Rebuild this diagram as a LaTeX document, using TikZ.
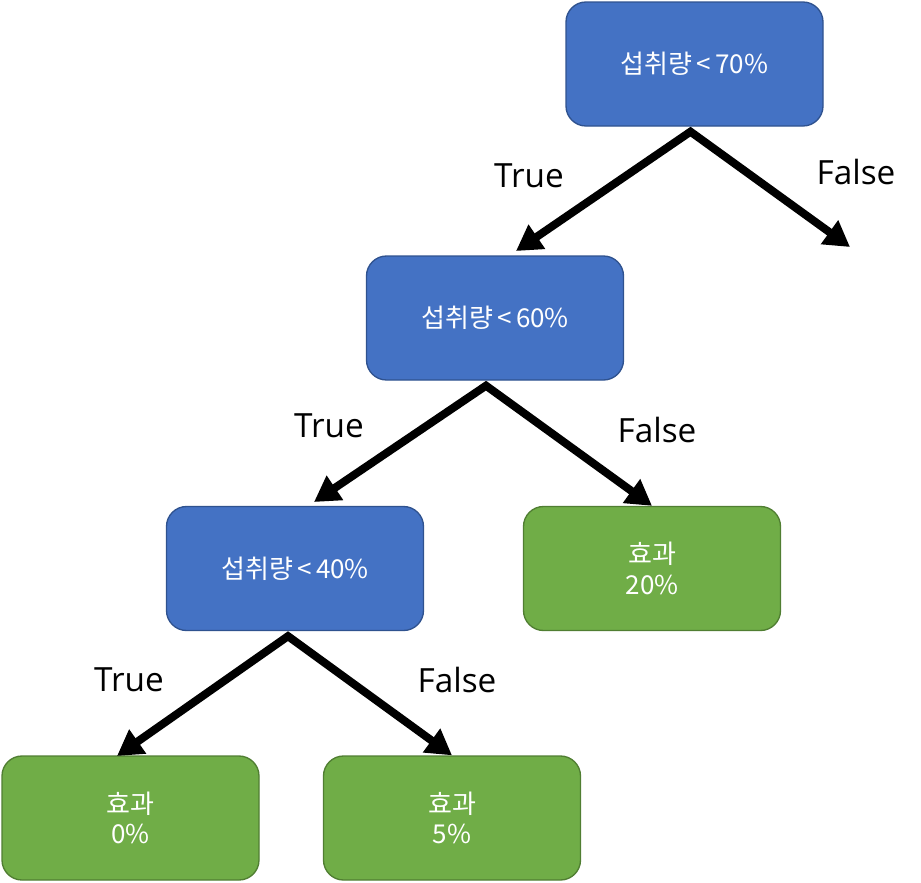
\documentclass[tikz,border=0pt]{standalone}
\usepackage{fontspec}
\setmainfont{Open Sans}
\newfontfamily\kor{Noto Sans CJK KR}
\usetikzlibrary{arrows.meta,calc}
\definecolor{bluefill}{HTML}{4472C4}
\definecolor{blueline}{HTML}{2F528F}
\definecolor{greenfill}{HTML}{70AD47}
\definecolor{greenline}{HTML}{507E32}
\tikzset{
  box/.style={rounded corners=15pt, minimum width=192.75pt, minimum height=93pt,
    line width=1pt, text=white, align=center, font=\kor\fontsize{19.5}{23}\selectfont, inner sep=0pt},
  bluebox/.style={box, fill=bluefill, draw=blueline},
  greenbox/.style={box, fill=greenfill, draw=greenline},
  branch/.style={line width=6pt, line join=miter, {Triangle[length=19pt,width=21pt]}-{Triangle[length=19pt,width=21pt]}},
  lbl/.style={font=\fontsize{25}{30}\selectfont, text=black, inner sep=0pt}
}
\begin{document}
\begin{tikzpicture}[x=0.75pt,y=-0.75pt]
\useasboundingbox (0,0) rectangle (921,882);
\node[bluebox] (n70) at (694.5,64) {섭취량\,<\,70\%};
\node[bluebox] (n60) at (495,318) {섭취량\,<\,60\%};
\node[bluebox] (n40) at (295,568.5) {섭취량\,<\,40\%};
\node[greenbox] (g20) at (652,568.5) {효과\\20\%};
\node[greenbox] (g0) at (130.5,818) {효과\\0\%};
\node[greenbox] (g5) at (452,818) {효과\\5\%};

\coordinate (a70) at ($(n70.south)+(-4,5)$);
\coordinate (a60) at ($(n60.south)+(-9,5)$);
\coordinate (a40) at ($(n40.south)+(-7,5)$);
\coordinate (f70) at (850,247);
\coordinate (t70) at (516,251);
\coordinate (t60) at (314,502);
\coordinate (t40) at (117,756);

\draw[branch] (t70) -- (a70) -- (f70);
\draw[branch] (t60) -- (a60) -- (g20.north);
\draw[branch] (t40) -- (a40) -- (g5.north);

\node[lbl] (lt70) at (529,176) {True};
\node[lbl] (lf70) at (856,172) {False};
\node[lbl] (lt60) at (329,426) {True};
\node[lbl] (lf60) at (657,430) {False};
\node[lbl] (lt40) at (129,680) {True};
\node[lbl] (lf40) at (457,680) {False};
\end{tikzpicture}
\end{document}
